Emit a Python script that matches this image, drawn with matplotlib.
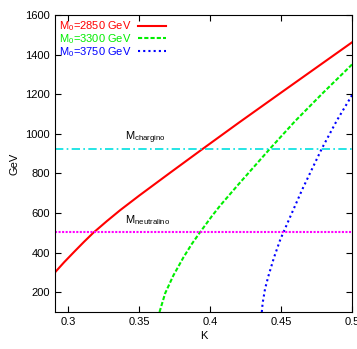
import matplotlib
matplotlib.use("Agg")
import matplotlib.pyplot as plt

plt.rcParams['font.family'] = ['Liberation Sans', 'DejaVu Sans']
plt.rcParams['mathtext.fontset'] = 'custom'
plt.rcParams['mathtext.rm'] = 'Liberation Sans'
plt.rcParams['mathtext.it'] = 'Liberation Sans'

k_red = [0.2906, 0.297, 0.304, 0.311, 0.3176, 0.327, 0.3365, 0.350, 0.3717,
         0.394, 0.420, 0.450, 0.475, 0.500]
m_red = [300, 351, 403, 454, 500, 558, 614, 688, 803,
         920, 1055, 1208, 1335, 1462]

k_green = [0.3643, 0.3683, 0.3741, 0.3811, 0.3870, 0.3929, 0.4011, 0.4070,
           0.420, 0.4422, 0.460, 0.480, 0.500]
m_green = [100, 195, 285, 375, 443, 503, 583, 637,
           745, 925, 1065, 1210, 1350]

k_blue = [0.4364, 0.4370, 0.4387, 0.441, 0.445, 0.4495, 0.457, 0.465,
          0.472, 0.4787, 0.4893, 0.500]
m_blue = [100, 145, 217, 280, 375, 467, 590, 720, 825, 925, 1067, 1195]

m_chargino = 925
m_neutralino = 505

labels = ['M$_0$=2850 GeV', 'M$_0$=3300 GeV', 'M$_0$=3750 GeV']

fig = plt.figure(figsize=(3.57, 3.49), dpi=100)
ax = fig.add_axes([0.154, 0.106, 0.832, 0.851])

ax.plot(k_red, m_red, color='#ff0000', lw=1.5, label=labels[0])
ax.plot(k_green, m_green, color='#00ee00', lw=1.5, ls=(0, (2, 1)), label=labels[1])
ax.plot(k_blue, m_blue, color='#0000ff', lw=1.5, ls=(0, (1, 1.5)), label=labels[2])

ax.axhline(m_chargino, color='#00e0e0', lw=1.2, ls=(0, (5, 2, 1, 2)))
ax.axhline(m_neutralino, color='#ff00ff', lw=1.5, ls=(0, (1, 0.7)))
ax.text(0.340, 966, 'M$_{\\mathrm{chargino}}$', fontsize=8, va='baseline')
ax.text(0.340, 550, 'M$_{\\mathrm{neutralino}}$', fontsize=8, va='baseline')

ax.set_xlim(0.2906, 0.5)
ax.set_ylim(100, 1600)
ax.set_xticks([0.3, 0.35, 0.4, 0.45, 0.5])
ax.set_xticklabels(['0.3', '0.35', '0.4', '0.45', '0.5'])
ax.set_yticks(range(200, 1601, 200))
ax.tick_params(direction='in', top=True, right=True, labelsize=8, length=4)
ax.set_xlabel('K', fontsize=8, labelpad=3)
ax.set_ylabel('GeV', fontsize=8, labelpad=4)

leg = ax.legend(loc='upper left', frameon=False, fontsize=8, markerfirst=False,
                labelcolor='linecolor', handlelength=2.6, borderaxespad=0.0,
                borderpad=0.4, labelspacing=-0.1, handletextpad=0.5)

fig.savefig('out.png', dpi=100)
